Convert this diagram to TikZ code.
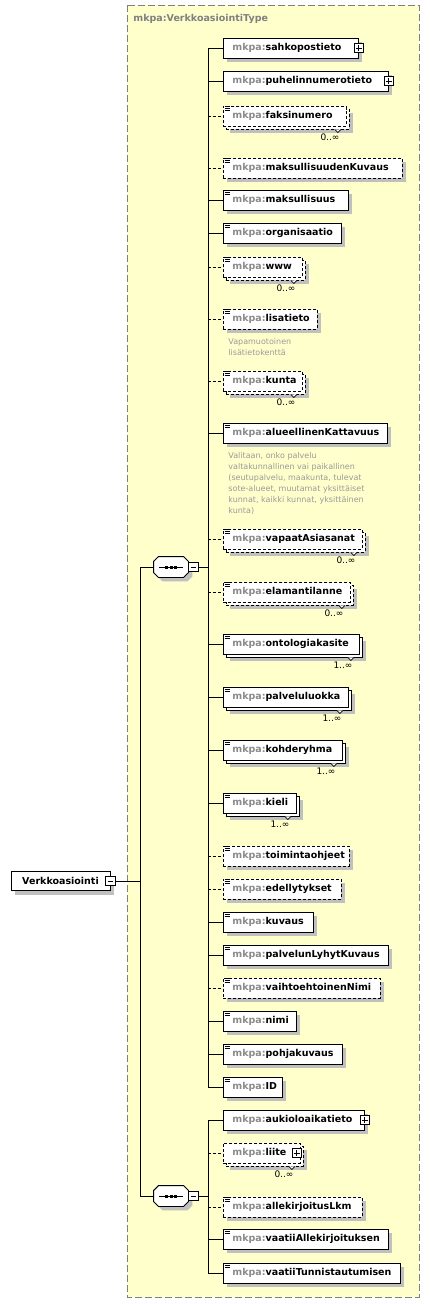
\documentclass[tikz,border=0pt]{standalone}
\usepackage{fontspec}
\setmainfont{DejaVu Sans}
\usetikzlibrary{shadows}

\definecolor{typefill}{HTML}{FFFFCC}
\definecolor{framegrey}{HTML}{808080}
\definecolor{pfxgrey}{HTML}{8A8A8A}
\definecolor{shadowgrey}{HTML}{C0C0C0}
\definecolor{notegrey}{HTML}{9A9A9A}

\newcommand{\elfont}{\fontsize{9.5}{11}\selectfont\bfseries}
\newcommand{\notefont}{\fontsize{8}{11}\selectfont}

\tikzset{
  frame/.style={draw=framegrey, dash pattern=on 7pt off 3pt, fill=typefill},
  typename/.style={anchor=west, inner sep=0pt, font=\elfont, text=framegrey},
  shade4/.style={drop shadow={shadow xshift=4pt, shadow yshift=-4pt, opacity=1, fill=shadowgrey, draw=none}},
  elbase/.style={draw, fill=white, anchor=west, minimum height=20pt, inner xsep=9pt, inner ysep=0pt,
    text height=7pt, text depth=2pt, font=\elfont, align=left},
  elone/.style={elbase, shade4},
  elmany/.style={elbase,
    drop shadow={shadow xshift=7pt, shadow yshift=-7pt, opacity=1, fill=shadowgrey, draw=none},
    copy shadow={shadow xshift=3pt, shadow yshift=-3pt, draw, fill=white}},
  opt/.style={dash pattern=on 3pt off 2pt},
  root/.style={draw, fill=white, minimum width=99pt, minimum height=19pt, inner sep=0pt, font=\elfont, shade4},
  seq/.style={minimum width=34pt, minimum height=20pt, inner sep=0pt},
  minusbox/.style={draw, fill=white, minimum size=9.5pt, inner sep=0pt,
    path picture={\draw ([xshift=2pt]path picture bounding box.west) -- ([xshift=-2pt]path picture bounding box.east);}},
  plusbox/.style={draw, fill=white, minimum size=9.5pt, inner sep=0pt,
    path picture={
      \draw ([xshift=2pt]path picture bounding box.west) -- ([xshift=-2pt]path picture bounding box.east);
      \draw ([yshift=2pt]path picture bounding box.south) -- ([yshift=-2pt]path picture bounding box.north);}},
  card/.style={anchor=north east, inner sep=0pt, font=\fontsize{9}{10}\selectfont},
  note/.style={anchor=north west, inner sep=0pt, align=left, font=\notefont, text=notegrey},
  icon/.style={line width=0.8pt}
}

% element box at x=223: style, name, y, width
\newcommand{\elem}[4]{%
  \pgfmathsetmacro{\tw}{#4-18}%
  \node[#1, text width=\tw pt] (#2) at (223,#3) {\mbox{\textcolor{pfxgrey}{mkpa:}#2}};}
% occurrence mark and label under a repeated element
\newcommand{\card}[2]{%
  \filldraw[fill=white, line width=0.7pt] ([shift={(-12,3)}]#1.south east) -- ++(3,3) -- ++(3,-3);
  \node[card] (#1occ) at ([shift={(-7,7)}]#1.south east) {#2};}
% sequence compositor: octagon with dots
\newcommand{\octa}[1]{%
  ([xshift=5pt]#1.north west) -- ([xshift=-5pt]#1.north east) -- ([yshift=-5pt]#1.north east)
  -- ([yshift=5pt]#1.south east) -- ([xshift=-5pt]#1.south east) -- ([xshift=5pt]#1.south west)
  -- ([yshift=5pt]#1.south west) -- ([yshift=-5pt]#1.north west) -- cycle}
\newcommand{\seqnode}[3]{%
  \node[seq] (#1) at (#2,#3) {};
  \fill[shadowgrey, transform canvas={shift={(4pt,-4pt)}}] \octa{#1};
  \filldraw[fill=white] \octa{#1};
  \draw ([xshift=5pt]#1.west) -- ([xshift=-5pt]#1.east);
  \foreach \k in {-4.5,0,4.5}
    \fill[black] ([xshift=\k pt]#1.center) ++(-1.5pt,-1.5pt) rectangle ++(3pt,3pt);
  \node[minusbox, anchor=west] (#1m) at (#1.east) {};}

\begin{document}
\begin{tikzpicture}[x=1pt, y=-1pt, line width=0.9pt]
        \useasboundingbox (0,0) rectangle (430,1304);
        % Type box
        \draw[frame] (127,5) rectangle (419,1297);
        \node[typename] (tname) at (133,19) {mkpa:VerkkoasiointiType};

        % Root and sequences
        \node[root] (Verkkoasiointi) at (60.5,881) {Verkkoasiointi};
        \node[minusbox] (rootm) at (Verkkoasiointi.east) {};
        \seqnode{seqA}{171}{567}
        \seqnode{seqB}{171}{1196}

        % Elements, first sequence
        \elem{elone}{sahkopostieto}{48}{135}
        \elem{elone}{puhelinnumerotieto}{81}{165}
        \elem{elmany,opt}{faksinumero}{116}{123}
        \elem{elone,opt}{maksullisuudenKuvaus}{168}{179}
        \elem{elone}{maksullisuus}{200}{125}
        \elem{elone}{organisaatio}{233}{118}
        \elem{elmany,opt}{www}{267}{79}
        \elem{elone,opt}{lisatieto}{319}{94}
        \elem{elmany,opt}{kunta}{381}{79}
        \elem{elone}{alueellinenKattavuus}{433}{164}
        \elem{elmany,opt}{vapaatAsiasanat}{539}{139}
        \elem{elmany,opt}{elamantilanne}{592}{127}
        \elem{elmany}{ontologiakasite}{644}{136}
        \elem{elmany}{palveluluokka}{697}{125}
        \elem{elmany}{kohderyhma}{750}{119}
        \elem{elmany}{kieli}{803}{73}
        \elem{elone,opt}{toimintaohjeet}{856}{126}
        \elem{elone,opt}{edellytykset}{889}{118}
        \elem{elone}{kuvaus}{922}{90}
        \elem{elone}{palvelunLyhytKuvaus}{955}{165}
        \elem{elone,opt}{vaihtoehtoinenNimi}{988}{157}
        \elem{elone}{nimi}{1021}{73}
        \elem{elone}{pohjakuvaus}{1054}{119}
        \elem{elone}{ID}{1087}{59}

        % Elements, second sequence
        \elem{elone}{aukioloaikatieto}{1120}{141}
        \elem{elmany,opt}{liite}{1153}{77}
        \elem{elone,opt}{allekirjoitusLkm}{1207}{139}
        \elem{elone}{vaatiiAllekirjoituksen}{1239}{165}
        \elem{elone}{vaatiiTunnistautumisen}{1273}{177}

        % Expand boxes
        \node[plusbox] (sahkopostietop) at (sahkopostieto.east) {};
        \node[plusbox] (puhelinnumerotietop) at (puhelinnumerotieto.east) {};
        \node[plusbox] (aukioloaikatietop) at (aukioloaikatieto.east) {};
        \node[plusbox] (liitep) at ([xshift=-4pt]liite.east) {};

        % Simple content icons
        \foreach \n in {faksinumero, maksullisuudenKuvaus, maksullisuus, organisaatio, www, lisatieto,
                        kunta, alueellinenKattavuus, vapaatAsiasanat, elamantilanne, ontologiakasite,
                        palveluluokka, kohderyhma, kieli, toimintaohjeet, edellytykset, kuvaus,
                        palvelunLyhytKuvaus, vaihtoehtoinenNimi, nimi, pohjakuvaus, ID,
                        allekirjoitusLkm, vaatiiAllekirjoituksen, vaatiiTunnistautumisen}
          \foreach \d in {1.2,3.2,5.2}
            \draw[icon] ([shift={(1.5,\d)}]\n.north west) -- ++(5.5,0);

        % Occurrences
        \card{faksinumero}{0..∞}
        \card{www}{0..∞}
        \card{kunta}{0..∞}
        \card{vapaatAsiasanat}{0..∞}
        \card{elamantilanne}{0..∞}
        \card{ontologiakasite}{1..∞}
        \card{palveluluokka}{1..∞}
        \card{kohderyhma}{1..∞}
        \card{kieli}{1..∞}
        \card{liite}{0..∞}

        % Notes
        \node[note] (lisatietonote) at ([shift={(5,9)}]lisatieto.south west)
          {Vapamuotoinen\\lisätietokenttä};
        \node[note] (alueellinenKattavuusnote) at ([shift={(5,9)}]alueellinenKattavuus.south west)
          {Valitaan, onko palvelu\\valtakunnallinen vai paikallinen\\(seutupalvelu, maakunta, tulevat\\sote-alueet, muutamat yksittäiset\\kunnat, kaikki kunnat, yksittäinen\\kunta)};

        % Connectors
        \coordinate (rbus) at (140,881);
        \coordinate (busA) at (208,567);
        \coordinate (busB) at (208,1196);
        \draw (rootm) -- (rbus);
        \draw (rbus |- seqA) -- (rbus |- seqB);
        \draw (rbus |- seqA) -- (seqA);
        \draw (rbus |- seqB) -- (seqB);
        \draw (seqAm) -- (busA);
        \draw (seqBm) -- (busB);
        \draw (busA |- sahkopostieto) -- (busA |- ID);
        \draw (busB |- aukioloaikatieto) -- (busB |- vaatiiTunnistautumisen);
        \foreach \n in {sahkopostieto, puhelinnumerotieto, maksullisuus, organisaatio, alueellinenKattavuus,
                        ontologiakasite, palveluluokka, kohderyhma, kieli, kuvaus, palvelunLyhytKuvaus,
                        nimi, pohjakuvaus, ID}
          \draw (busA |- \n) -- (\n);
        \foreach \n in {faksinumero, maksullisuudenKuvaus, www, lisatieto, kunta, vapaatAsiasanat,
                        elamantilanne, toimintaohjeet, edellytykset, vaihtoehtoinenNimi}
          \draw[opt] (busA |- \n) -- (\n);
        \foreach \n in {aukioloaikatieto, vaatiiAllekirjoituksen, vaatiiTunnistautumisen}
          \draw (busB |- \n) -- (\n);
        \foreach \n in {liite, allekirjoitusLkm}
          \draw[opt] (busB |- \n) -- (\n);
\end{tikzpicture}
\end{document}
